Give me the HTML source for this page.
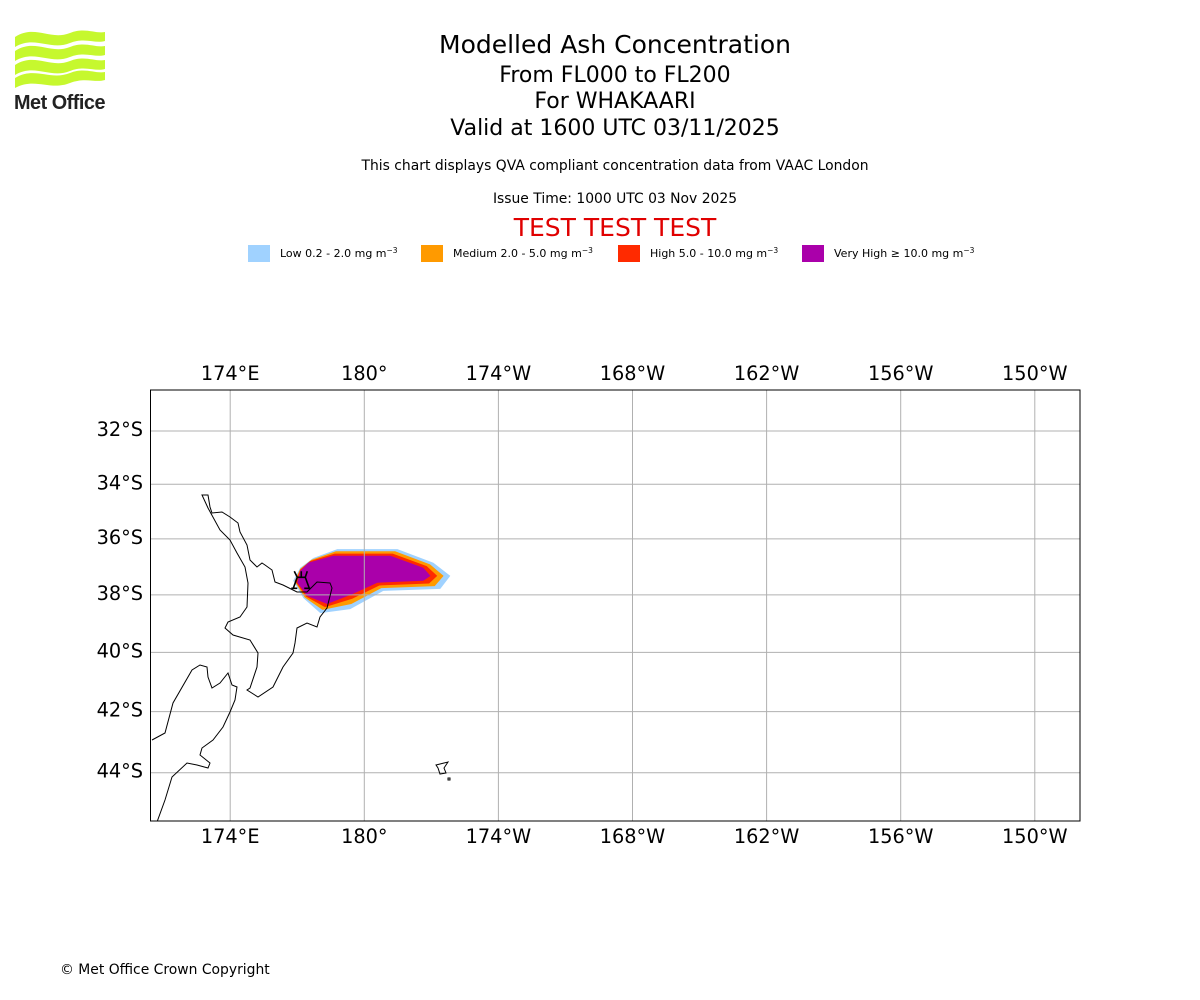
<!DOCTYPE html>
<html><head><meta charset="utf-8">
<style>
body{margin:0;background:#fff;font-family:"DejaVu Sans","Liberation Sans",sans-serif;}
#wrap{position:relative;width:1200px;height:1000px;overflow:hidden;}
.t{position:absolute;left:0;width:1230px;text-align:center;color:#000;white-space:nowrap;}
</style></head><body>
<div id="wrap">
<svg style="position:absolute;left:10px;top:28px" width="110" height="86" viewBox="0 0 110 86">
<g fill="#c6f82e">
<path d="M5 9 C25 -4 40 13 60 5 C75 -1 85 6 95 4 L95 13 C85 16 75 9 60 15 C40 23 25 7 5 19 Z"/>
<path d="M5 23 C25 10 40 27 60 19 C75 13 85 20 95 18 L95 27 C85 30 75 23 60 29 C40 37 25 21 5 33 Z"/>
<path d="M5 37 C25 24 40 41 60 33 C75 27 85 34 95 32 L95 41 C85 44 75 37 60 43 C40 51 25 35 5 47 Z"/>
<path d="M5 50 C25 38 40 53 60 45 C75 39 85 46 95 44 L95 52 C85 55 75 49 60 55 C40 63 25 49 5 60 Z"/>
</g>
<text x="4" y="81" font-family="Liberation Sans,sans-serif" font-weight="bold" font-size="20" fill="#222" letter-spacing="-0.5" textLength="91" lengthAdjust="spacingAndGlyphs">Met Office</text>
</svg>
<div class="t" style="top:30px;font-size:25px">Modelled Ash Concentration</div>
<div class="t" style="top:63px;font-size:22px">From FL000 to FL200</div>
<div class="t" style="top:89px;font-size:22px">For WHAKAARI</div>
<div class="t" style="top:116px;font-size:22px">Valid at 1600 UTC 03/11/2025</div>
<div class="t" style="top:158px;font-size:13.9px">This chart displays QVA compliant concentration data from VAAC London</div>
<div class="t" style="top:191px;font-size:13.9px">Issue Time: 1000 UTC 03 Nov 2025</div>
<div class="t" style="top:213px;font-size:25px;color:#e00000">TEST TEST TEST</div>
<div class="t" style="top:962px;left:60px;width:auto;text-align:left;font-size:13.9px">© Met Office Crown Copyright</div>
<svg id="map" width="1200" height="1000" style="position:absolute;left:0;top:0"></svg>
</div>
<script>
const levelNames=["Low 0.2 - 2.0 mg m","Medium 2.0 - 5.0 mg m","High 5.0 - 10.0 mg m","Very High \u2265 10.0 mg m"];
const levelColors=["#a0d2ff","#ff9a00","#ff2a00","#aa00aa"];
const lonTicks=[174,180,186,192,198,204,210];
const lonLabels=["174°E","180°","174°W","168°W","162°W","156°W","150°W"];
const latTicks=[-32,-34,-36,-38,-40,-42,-44];
const latLabels=["32°S","34°S","36°S","38°S","40°S","42°S","44°S"];
const plumeLow=[[177.72,-36.69],[178.79,-36.37],[181.48,-36.37],[183.09,-36.86],[183.85,-37.33],[183.40,-37.79],[180.85,-37.86],[179.37,-38.50],[178.03,-38.64],[177.27,-38.11],[176.82,-37.50],[177.13,-37.04]];
const plumeMed=[[177.64,-36.75],[178.73,-36.45],[181.38,-36.45],[182.94,-36.92],[183.55,-37.33],[183.15,-37.69],[180.76,-37.76],[179.42,-38.32],[178.13,-38.53],[177.33,-38.09],[176.88,-37.52],[177.13,-37.08]];
const plumeHigh=[[177.57,-36.80],[178.67,-36.53],[181.27,-36.53],[182.79,-36.98],[183.26,-37.33],[182.90,-37.60],[180.67,-37.67],[179.46,-38.14],[178.24,-38.43],[177.39,-38.06],[176.94,-37.55],[177.13,-37.11]];
const plumeVHigh=[[177.49,-36.86],[178.61,-36.61],[181.17,-36.61],[182.64,-37.04],[182.96,-37.33],[182.64,-37.50],[180.58,-37.57],[179.51,-37.96],[178.34,-38.32],[177.45,-38.04],[177.00,-37.57],[177.13,-37.15]];
const volcano=[177.18,-37.52];

const NS="http://www.w3.org/2000/svg";
const svg=document.getElementById('map');
const L=150.5,R=1080,T=390,B=821;
const PX=22.35;
const K=PX*180/Math.PI;
function merc(lat){return Math.log(Math.tan(Math.PI/4+lat*Math.PI/360));}
function xs(lon){return 364.3+(lon-180)*PX;}
function ys(lat){return 431-K*(merc(lat)-merc(-32));}
function mk(tag,attrs){const e=document.createElementNS(NS,tag);for(const k in attrs)e.setAttribute(k,attrs[k]);svg.appendChild(e);return e;}

// legend
const legX=[248,421,618,802];
levelNames.forEach((n,i)=>{
  const g=document.createElementNS(NS,'g');svg.appendChild(g);
  
  
  const r=document.createElementNS(NS,'rect');
  r.setAttribute('x',legX[i]);r.setAttribute('y',245);r.setAttribute('width',22);r.setAttribute('height',17);r.setAttribute('fill',levelColors[i]);
  g.appendChild(r);
  const t=document.createElementNS(NS,'text');
  t.setAttribute('x',legX[i]+32);t.setAttribute('y',257);t.setAttribute('font-size','11');t.setAttribute('font-family','DejaVu Sans,sans-serif');
  t.textContent=n;
  const s=document.createElementNS(NS,'tspan');s.setAttribute('dy','-4');s.setAttribute('font-size','7.5');s.textContent='\u22123';t.appendChild(s);
  g.appendChild(t);
});

// clip
const defs=mk('defs',{});
const cp=document.createElementNS(NS,'clipPath');cp.setAttribute('id','clip');defs.appendChild(cp);
const cr=document.createElementNS(NS,'rect');cr.setAttribute('x',L);cr.setAttribute('y',T);cr.setAttribute('width',R-L);cr.setAttribute('height',B-T);cp.appendChild(cr);

// plume
[plumeLow,plumeMed,plumeHigh,plumeVHigh].forEach((p,i)=>{
  const e=mk('polygon',{points:p.map(q=>xs(q[0]).toFixed(1)+','+ys(q[1]).toFixed(1)).join(' '),fill:levelColors[i]});
  
  
});

// grid
lonTicks.forEach((lon,i)=>{
  const x=xs(lon);
  const l=mk('line',{x1:x,x2:x,y1:T,y2:B,stroke:'#b0b0b0','stroke-width':1});
  
  
  [380,843].forEach(yy=>{
    const t=mk('text',{x:x,y:yy,'text-anchor':'middle','font-size':'19.3','font-family':'DejaVu Sans,sans-serif'});
    t.textContent=lonLabels[i];
    
    
  });
});
latTicks.forEach((lat,i)=>{
  const y=ys(lat);
  const l=mk('line',{x1:L,x2:R,y1:y,y2:y,stroke:'#b0b0b0','stroke-width':1});
  
  
  const t=mk('text',{x:143,y:y+5,'text-anchor':'end','font-size':'19.3','font-family':'DejaVu Sans,sans-serif'});
  t.textContent=latLabels[i];
  
  
});

// coastlines (pixel outline of NZ geography)
const ni="M202,495 L208,495 L210,507 L212,513 L222,512 L230,517 L238,523 L240,532 L247,545 L250,560 L257,567 L262,563 L265,565 L272,570 L275,582 L283,585 L297,592 L307,592 L317,582 L330,583 L332,588 L327,608 L320,617 L317,627 L307,623 L297,628 L295,643 L293,653 L283,667 L273,687 L258,697 L247,690 L250,688 L257,667 L258,653 L250,640 L233,635 L225,628 L228,622 L240,617 L247,607 L248,583 L245,567 L237,553 L230,540 L220,530 L208,508 Z";
const si="M152,740 L165,733 L173,703 L192,670 L200,665 L207,667 L208,677 L212,688 L220,683 L228,673 L232,685 L237,687 L235,700 L230,712 L223,727 L213,740 L202,748 L200,755 L210,763 L208,768 L197,765 L187,763 L172,777 L165,800 L157,822";
const ch="M436,765 L448,762 L444,768 L446,773 L440,774 L438,768 Z M448,778 L450,778 L450,780 L448,780 Z";
const cst=mk('g',{'clip-path':'url(#clip)',fill:'none',stroke:'#000','stroke-width':1});


[ni,si,ch].forEach(d=>{const p=document.createElementNS(NS,'path');p.setAttribute('d',d);cst.appendChild(p);});

// volcano marker
const vx=xs(volcano[0]),vy=ys(volcano[1]);
const vm=mk('path',{d:`M${vx-8},${vy+7} L${vx-4},${vy-4} L${vx+4},${vy-4} L${vx+8},${vy+7} M${vx-10},${vy+7} L${vx-4},${vy+7} M${vx+3},${vy+7} L${vx+9},${vy+7} M${vx-4},${vy-4} L${vx-7},${vy-10} M${vx},${vy-4} L${vx},${vy-10} M${vx+4},${vy-4} L${vx+6},${vy-10}`,stroke:'#000','stroke-width':1.6,fill:'none'});



// frame
const fr=mk('rect',{x:L,y:T,width:R-L,height:B-T,fill:'none',stroke:'#000','stroke-width':1});


</script>
</body></html>
